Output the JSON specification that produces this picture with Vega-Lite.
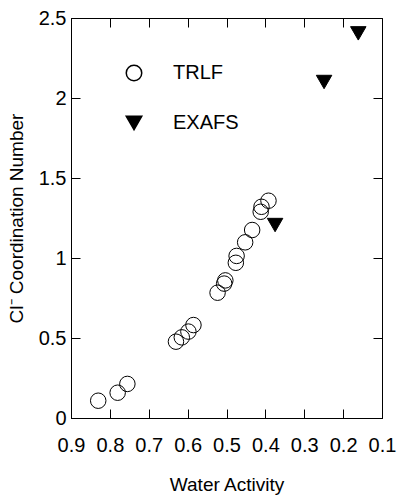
{
  "$schema": "https://vega.github.io/schema/vega-lite/v6.json",
  "width": 311,
  "height": 400,
  "autosize": {"type": "none"},
  "padding": {"left": 71, "top": 18, "right": 16, "bottom": 77},
  "background": "white",
  "config": {
    "font": "Liberation Sans",
    "view": {"stroke": "black", "strokeWidth": 1}
  },
  "data": {
    "values": [
      {"aw": 0.830, "cn": 0.108, "method": "TRLF"},
      {"aw": 0.780, "cn": 0.158, "method": "TRLF"},
      {"aw": 0.755, "cn": 0.213, "method": "TRLF"},
      {"aw": 0.630, "cn": 0.477, "method": "TRLF"},
      {"aw": 0.615, "cn": 0.504, "method": "TRLF"},
      {"aw": 0.598, "cn": 0.540, "method": "TRLF"},
      {"aw": 0.585, "cn": 0.581, "method": "TRLF"},
      {"aw": 0.523, "cn": 0.783, "method": "TRLF"},
      {"aw": 0.506, "cn": 0.840, "method": "TRLF"},
      {"aw": 0.503, "cn": 0.860, "method": "TRLF"},
      {"aw": 0.476, "cn": 0.970, "method": "TRLF"},
      {"aw": 0.474, "cn": 1.013, "method": "TRLF"},
      {"aw": 0.452, "cn": 1.098, "method": "TRLF"},
      {"aw": 0.434, "cn": 1.175, "method": "TRLF"},
      {"aw": 0.412, "cn": 1.289, "method": "TRLF"},
      {"aw": 0.410, "cn": 1.320, "method": "TRLF"},
      {"aw": 0.392, "cn": 1.358, "method": "TRLF"},
      {"aw": 0.375, "cn": 1.206, "method": "EXAFS"},
      {"aw": 0.249, "cn": 2.100, "method": "EXAFS"},
      {"aw": 0.161, "cn": 2.404, "method": "EXAFS"}
    ]
  },
  "mark": {"type": "point", "filled": true, "stroke": "black", "strokeWidth": 1, "size": 240, "opacity": 1},
  "encoding": {
    "x": {
      "field": "aw", "type": "quantitative",
      "scale": {"domain": [0.1, 0.9], "reverse": true, "nice": false, "zero": false},
      "axis": {"orient": "bottom", "values": [0.9, 0.8, 0.7, 0.6, 0.5, 0.4, 0.3, 0.2, 0.1], "format": "~g", "labelFlush": false,
        "ticks": false, "grid": true, "gridColor": "black", "gridOpacity": 1, "gridWidth": 1, "gridDash": [9, 382, 9, 1000],
        "domainColor": "black", "labelColor": "black", "labelFontSize": 20, "labelPadding": 17,
        "title": "Water Activity", "titleFontSize": 19, "titleFontWeight": "normal", "titleColor": "black", "titlePadding": 20}
    },
    "y": {
      "field": "cn", "type": "quantitative",
      "scale": {"domain": [0, 2.5], "nice": false},
      "axis": {"orient": "left", "values": [0, 0.5, 1, 1.5, 2, 2.5], "format": "~g", "labelFlush": false,
        "ticks": false, "grid": true, "gridColor": "black", "gridOpacity": 1, "gridWidth": 1, "gridDash": [9, 293, 9, 1000],
        "domainColor": "black", "labelColor": "black", "labelFontSize": 20, "labelPadding": 5,
        "title": "Cl⁻ Coordination Number", "titleFontSize": 19, "titleFontWeight": "normal", "titleColor": "black", "titlePadding": 12}
    },
    "shape": {
      "field": "method", "type": "nominal",
      "scale": {"domain": ["TRLF", "EXAFS"], "range": ["circle", "triangle-down"]},
      "legend": {"orient": "none", "legendX": 53, "legendY": 45, "title": null, "padding": 0, "labelFontSize": 20, "labelColor": "black", "labelOffset": 29, "rowPadding": 29, "symbolSize": 240,
        "encode": {"symbols": {"update": {"stroke": {"value": "black"}, "strokeWidth": {"value": 1}, "strokeOpacity": {"value": 1}}}}}
    },
    "fill": {
      "field": "method", "type": "nominal",
      "scale": {"domain": ["TRLF", "EXAFS"], "range": ["white", "black"]},
      "legend": {"orient": "none", "legendX": 53, "legendY": 45, "title": null, "padding": 0, "labelFontSize": 20, "labelColor": "black", "labelOffset": 29, "rowPadding": 29, "symbolSize": 240,
        "encode": {"symbols": {"update": {"stroke": {"value": "black"}, "strokeWidth": {"value": 1}, "strokeOpacity": {"value": 1}}}}}
    },
    "fillOpacity": {
      "field": "method", "type": "nominal",
      "scale": {"domain": ["TRLF", "EXAFS"], "range": [0, 1]},
      "legend": null
    }
  }
}
